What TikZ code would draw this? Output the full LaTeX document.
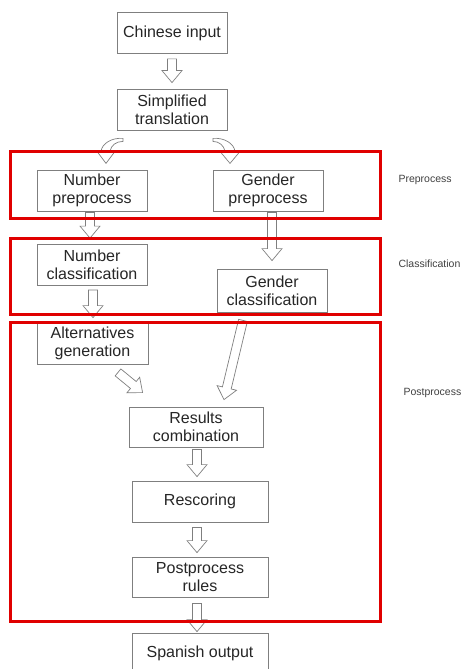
\documentclass[tikz,border=0pt]{standalone}
\usepackage{fontspec}
\setmainfont{Liberation Sans}
\usepackage{xcolor}
\usetikzlibrary{calc}
\definecolor{boxgray}{HTML}{7F7F7F}
\definecolor{framered}{HTML}{E00000}
\definecolor{txtgray}{HTML}{404040}

% block arrow from #1 to #2 (both given as coordinates)
\newcommand\blockarrow[2]{%
    \coordinate (ba-s) at #1;
    \coordinate (ba-t) at #2;
    \coordinate (ba-h) at ($(ba-t)!12pt!(ba-s)$);
    \draw[blockarr] ($(ba-s)!4.5pt!90:(ba-t)$) -- ($(ba-h)!4.5pt!-90:(ba-s)$)
        -- ($(ba-h)!10pt!-90:(ba-s)$) -- (ba-t) -- ($(ba-h)!10pt!90:(ba-s)$)
        -- ($(ba-h)!4.5pt!90:(ba-s)$) -- ($(ba-s)!4.5pt!-90:(ba-t)$) -- cycle;}

\begin{document}
\begin{tikzpicture}[x=1pt,y=1pt,
    stage/.style={draw=boxgray, line width=0.8pt, fill=white, align=center,
        minimum width=110, minimum height=41, inner sep=0pt,
        font=\fontsize{16}{18}\selectfont, text=black!85},
    blockarr/.style={draw=boxgray, line width=0.7pt, fill=white, line join=miter},
    redframe/.style={draw=framered, line width=3pt},
    phase/.style={anchor=west, font=\fontsize{10.5}{12}\selectfont, text=txtgray}]
    \useasboundingbox (0,0) rectangle (462,-669);

    \node[stage] (chin) at (172,-33) {Chinese input};
    \node[stage] (simp) at (172,-109.5) {Simplified\\translation};
    \node[stage] (numpre) at (92,-190.5) {Number\\preprocess};
    \node[stage] (genpre) at (268,-190.5) {Gender\\preprocess};
    \node[stage] (numcls) at (92,-265) {Number\\classification};
    \node[stage, minimum height=43] (gencls) at (272,-290.5) {Gender\\classification};
    \node[stage, minimum width=111] (altgen) at (92.5,-343.5) {Alternatives\\generation};
    \node[stage, minimum width=134, minimum height=40] (rescomb) at (196,-427) {Results\\combination};
    \node[stage, minimum width=136] (rescor) at (200,-501.5) {Rescoring};
    \node[stage, minimum width=136, minimum height=40] (postrul) at (200,-577) {Postprocess\\rules};
    \node[stage, minimum width=136, minimum height=40] (spanout) at (200,-653) {Spanish output};

    \blockarrow{($(chin.south)+(0,-5)$)}{($(simp.north)+(0,6)$)}
    \blockarrow{($(numpre.south)+(-2,-1)$)}{($(numcls.north)+(-2,6)$)}
    \blockarrow{($(genpre.south)+(4,-1)$)}{($(gencls.north)+(0,8)$)}
    \blockarrow{($(numcls.south)+(1,-4)$)}{($(altgen.north)+(0.5,5)$)}
    \blockarrow{($(altgen.south)+(25.5,-8)$)}{($(rescomb.north west)+(14,14)$)}
    \blockarrow{($(gencls.south)+(-29,-8)$)}{($(rescomb.north)+(28,7)$)}
    \blockarrow{($(rescomb.south)+(1,-2)$)}{($(rescor.north)+(-3,4)$)}
    \blockarrow{($(rescor.south)+(-3,-5)$)}{($(postrul.north)+(-3,4)$)}
    \blockarrow{($(postrul.south)+(-3,-6)$)}{($(spanout.north)+(-3,1)$)}

    % curved arrows out of the simplified translation
    \begin{scope}[shift={(simp.south)}]
        \draw[blockarr] (-49,-8) .. controls (-60,-7) and (-70,-13) .. (-71,-21)
            -- (-75,-21) -- (-66,-33) -- (-57,-21) -- (-62,-21)
            .. controls (-61,-15) and (-56,-11) .. (-49,-11) -- cycle;
        \draw[blockarr] (41,-8) .. controls (52,-7) and (62,-13) .. (63,-21)
            -- (68,-21) -- (58,-33) -- (48,-21) -- (53,-21)
            .. controls (52,-15) and (47,-11) .. (41,-11) -- cycle;
    \end{scope}

    \draw[redframe] (10,-151) rectangle (380,-218);
    \draw[redframe] (10,-238) rectangle (380,-314);
    \draw[redframe] (10,-322) rectangle (380,-621);

    \node[phase] (lblpre) at (395,-180) {Preprocess};
    \node[phase] (lblcls) at (395,-264) {Classification};
    \node[phase] (lblpost) at (400,-393) {Postprocess};
\end{tikzpicture}
\end{document}
